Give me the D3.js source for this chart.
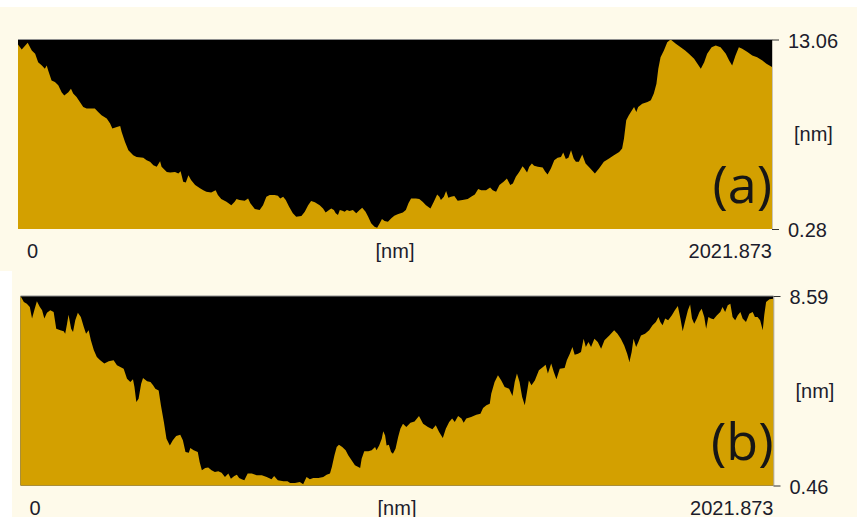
<!DOCTYPE html>
<html>
<head>
<meta charset="utf-8">
<script src="https://cdn.jsdelivr.net/npm/d3@7.9.0/dist/d3.min.js"></script>
<style>
  html, body { margin: 0; padding: 0; background: #ffffff; }
  svg { display: block; }
</style>
</head>
<body>
<svg id="chart" width="857" height="517"></svg>
<script>
// height profiles, [distance nm, height nm]
const profileA = [
  [0,12.72],[10,12.39],[26,12.84],[37,12.32],[46,12.10],[54,11.53],[64,11.31],[72,11.09],[77,11.31],[81,10.97],
  [90,10.30],[99,10.19],[108,9.97],[117,9.51],[124,9.29],[135,9.51],[142,9.74],[148,9.41],[157,9.18],[166,8.84],
  [175,8.51],[184,8.40],[206,8.40],[215,8.17],[224,7.95],[238,7.73],[247,7.39],[253,7.05],[265,7.16],[274,7.23],
  [278,6.82],[287,6.15],[296,5.59],[309,5.26],[318,5.14],[336,5.08],[345,4.92],[354,4.81],[363,4.58],[372,4.47],
  [381,4.85],[385,4.47],[399,4.13],[408,4.09],[421,4.13],[430,4.03],[436,4.18],[443,3.46],[450,3.42],[457,3.91],
  [464,3.58],[475,3.24],[488,3.02],[497,2.90],[505,2.79],[518,2.75],[530,2.90],[536,2.57],[545,2.30],[559,2.12],
  [572,1.89],[581,2.12],[586,2.30],[594,2.23],[608,2.18],[617,2.34],[623,2.01],[635,1.63],[648,1.56],[657,1.89],
  [666,2.45],[675,2.57],[688,2.57],[697,2.52],[703,2.34],[711,2.45],[718,2.23],[727,1.78],[737,1.34],[746,1.11],
  [760,1.15],[769,1.44],[778,1.89],[786,2.16],[796,2.08],[809,1.89],[818,1.67],[825,1.40],[834,1.56],[840,1.67],
  [847,1.56],[852,1.34],[858,1.22],[863,1.56],[870,1.51],[876,1.44],[882,1.56],[889,1.49],[898,1.56],[907,1.34],
  [916,1.56],[923,1.71],[932,1.44],[939,1.11],[947,0.66],[956,0.43],[963,0.37],[970,0.66],[976,0.95],[983,0.82],
  [992,0.77],[1001,1.00],[1009,1.17],[1018,1.27],[1032,1.40],[1040,1.56],[1047,2.01],[1054,2.34],[1067,2.34],[1076,2.30],
  [1085,2.12],[1094,1.89],[1106,1.67],[1115,2.12],[1124,2.61],[1130,2.45],[1134,2.23],[1142,2.45],[1148,2.84],[1154,2.39],
  [1161,2.45],[1170,2.50],[1179,2.18],[1192,2.23],[1206,2.30],[1215,2.45],[1225,2.61],[1234,2.97],[1242,2.90],[1255,2.90],
  [1266,3.08],[1273,2.90],[1282,2.79],[1291,3.24],[1302,3.46],[1311,3.69],[1320,3.24],[1327,3.35],[1335,3.80],[1344,4.13],
  [1353,4.52],[1358,4.36],[1365,4.09],[1371,4.47],[1378,4.70],[1384,4.54],[1394,4.47],[1407,4.43],[1413,4.18],[1420,3.96],
  [1429,4.36],[1438,4.92],[1447,5.08],[1456,5.14],[1462,5.44],[1469,5.00],[1476,5.08],[1483,5.59],[1490,5.04],[1496,4.81],
  [1504,4.81],[1513,5.30],[1522,4.70],[1536,4.32],[1547,4.03],[1558,4.36],[1571,4.81],[1585,5.04],[1598,5.26],[1612,5.48],
  [1620,5.71],[1625,6.38],[1631,7.61],[1638,7.95],[1646,8.28],[1652,8.51],[1658,8.17],[1663,8.51],[1674,8.73],[1688,8.84],
  [1697,8.96],[1705,9.41],[1712,10.08],[1717,11.09],[1723,11.87],[1732,12.32],[1741,12.88],[1750,13.06],[1764,12.77],[1777,12.54],
  [1789,12.32],[1799,12.10],[1813,11.76],[1822,11.42],[1831,11.09],[1840,11.53],[1848,12.10],[1860,12.54],[1871,12.66],[1884,12.54],
  [1898,12.10],[1907,11.65],[1915,11.31],[1924,11.98],[1933,12.54],[1942,12.43],[1956,12.21],[1969,11.98],[1982,11.87],[1996,11.65],
  [2007,11.42],[2021.873,11.20]
];

const profileB = [
  [0,8.59],[9,8.33],[17,8.26],[25,8.12],[31,7.62],[37,7.98],[44,8.36],[52,8.12],[58,7.98],[64,7.62],
  [71,7.87],[80,7.98],[89,7.90],[96,7.19],[107,7.12],[116,7.08],[120,6.97],[125,7.40],[129,7.79],[136,7.19],
  [141,7.05],[147,7.55],[154,7.87],[162,7.69],[170,7.26],[176,6.97],[183,7.12],[189,6.69],[197,6.26],[205,5.97],
  [214,5.83],[225,5.69],[237,5.79],[250,5.83],[259,5.62],[268,5.54],[277,5.47],[286,5.04],[295,4.90],[302,5.02],
  [306,4.69],[311,4.04],[317,4.18],[324,4.83],[329,5.07],[340,4.93],[349,4.90],[356,4.76],[362,4.61],[371,4.54],
  [377,3.90],[385,3.18],[392,2.47],[401,2.18],[409,2.40],[418,2.58],[429,2.64],[436,2.40],[443,1.90],[452,1.87],
  [456,2.07],[465,1.97],[476,1.90],[481,1.47],[487,1.11],[496,1.21],[504,1.23],[513,1.11],[522,1.04],[531,1.07],
  [540,1.01],[549,0.82],[558,0.97],[565,0.75],[574,0.87],[581,0.92],[587,0.78],[594,0.73],[601,0.68],[610,0.97],
  [621,0.97],[634,0.90],[648,0.90],[661,0.82],[674,0.73],[681,0.87],[691,0.68],[706,0.64],[717,0.64],[724,0.57],
  [737,0.57],[750,0.61],[759,0.51],[768,0.82],[777,0.73],[786,0.78],[800,0.78],[813,0.82],[822,0.92],[831,0.97],
  [836,1.25],[843,1.76],[849,2.11],[855,2.21],[864,2.11],[873,1.97],[880,1.76],[889,1.54],[898,1.33],[907,1.25],
  [912,1.21],[916,1.61],[923,1.93],[934,1.93],[943,1.97],[952,2.11],[956,1.97],[963,2.18],[970,2.47],[974,2.79],
  [979,2.61],[983,2.18],[989,2.21],[995,1.90],[1000,1.82],[1007,2.04],[1014,2.54],[1020,2.90],[1027,3.11],[1036,2.97],
  [1047,3.15],[1058,3.21],[1070,3.44],[1081,3.11],[1094,2.97],[1106,2.87],[1115,3.04],[1124,2.76],[1134,2.50],[1142,2.90],
  [1151,3.18],[1159,3.33],[1166,3.18],[1175,3.44],[1184,3.33],[1190,3.15],[1197,3.33],[1210,3.40],[1224,3.50],[1235,3.54],
  [1242,3.78],[1251,3.90],[1260,3.97],[1264,4.40],[1273,4.90],[1282,5.19],[1291,4.97],[1300,4.69],[1312,4.61],[1321,4.30],
  [1327,4.90],[1333,5.26],[1340,4.90],[1347,4.26],[1354,3.90],[1360,4.47],[1365,4.97],[1372,4.76],[1381,4.97],[1392,5.40],
  [1403,5.54],[1410,5.64],[1416,5.26],[1425,5.69],[1432,5.33],[1439,5.02],[1448,5.47],[1461,5.50],[1467,5.83],[1475,6.11],
  [1482,6.40],[1488,6.07],[1497,6.11],[1505,6.19],[1512,6.76],[1518,6.40],[1525,6.62],[1532,6.40],[1541,6.76],[1550,6.62],
  [1559,6.33],[1568,6.69],[1581,6.90],[1594,7.12],[1603,6.97],[1612,6.76],[1621,6.47],[1629,6.11],[1635,5.76],[1641,6.19],
  [1646,6.76],[1653,6.40],[1659,6.62],[1666,6.90],[1677,6.97],[1688,7.12],[1697,7.33],[1706,7.47],[1713,7.69],[1718,7.47],
  [1724,7.33],[1731,7.62],[1739,7.55],[1749,7.76],[1757,7.98],[1765,8.16],[1772,7.62],[1778,7.08],[1784,7.47],[1792,7.98],
  [1798,8.22],[1803,7.62],[1809,7.40],[1816,7.62],[1823,7.90],[1829,8.04],[1836,7.69],[1841,7.19],[1847,7.69],[1854,7.62],
  [1861,7.59],[1870,7.76],[1879,7.90],[1885,8.12],[1892,7.90],[1899,8.19],[1906,8.26],[1912,7.69],[1919,7.55],[1926,7.76],
  [1933,7.90],[1939,7.62],[1948,7.47],[1957,7.83],[1966,7.90],[1972,7.69],[1979,7.69],[1986,7.55],[1993,7.12],[1997,7.76],
  [2002,8.33],[2011,8.45],[2021.873,8.47]
];

const scanLength = 2021.873;
const heightRangeA = [0.28, 13.06];
const heightRangeB = [0.46, 8.59];
const xTickLabels = ['0', '[nm]', '2021.873'];
const unitLabel = '[nm]';
const panelLabels = ['(a)', '(b)'];

// layout of the two scan panels (pixels)
const panels = [
  { data: profileA, range: heightRangeA, label: panelLabels[0],
    bg: [0, 7, 857, 264], left: 18, right: 772, top: 39.5, bottom: 229 },
  { data: profileB, range: heightRangeB, label: panelLabels[1],
    bg: [12, 271, 845, 246], left: 20.5, right: 773.5, top: 296, bottom: 485.5 }
];

const svg = d3.select('#chart');
const textColor = '#1c1c2c';
const tickFont = '"Liberation Sans", Arial, sans-serif';

panels.forEach((p) => {
  const g = svg.append('g');

  // panel background
  g.append('rect')
    .attr('x', p.bg[0]).attr('y', p.bg[1])
    .attr('width', p.bg[2]).attr('height', p.bg[3])
    .attr('fill', '#fefaea');

  let x = d3.scaleLinear().domain([0, scanLength]).range([p.left, p.right]);
  let y = d3.scaleLinear().domain(p.range).range([p.bottom, p.top]);

  // black backdrop
  g.append('rect')
    .attr('x', p.left).attr('y', p.top)
    .attr('width', p.right - p.left).attr('height', p.bottom - p.top)
    .attr('fill', '#000');

  // gold profile
  let area = d3.area()
    .x((d) => x(d[0]))
    .y0(p.bottom)
    .y1((d) => y(d[1]));

  g.append('path')
    .datum(p.data)
    .attr('d', area)
    .attr('fill', '#d3a000');

  // thin frame line on top and right side
  g.append('line')
    .attr('x1', p.left).attr('x2', p.right)
    .attr('y1', p.top).attr('y2', p.top)
    .attr('stroke', '#8f8f8f').attr('stroke-width', 1);
  g.append('line')
    .attr('x1', p.right + 0.5).attr('x2', p.right + 0.5)
    .attr('y1', p.top).attr('y2', p.bottom)
    .attr('stroke', '#c8c4b8').attr('stroke-width', 1);

  // right axis: min / max only
  let yAxis = d3.axisRight(y)
    .tickValues(p.range)
    .tickFormat(d3.format('.2f'))
    .tickSize(7)
    .tickPadding(9);

  let ax = g.append('g')
    .attr('transform', `translate(${p.right},0)`)
    .call(yAxis);
  ax.select('.domain').remove();
  ax.selectAll('line').attr('stroke', '#333');
  ax.selectAll('text')
    .attr('fill', textColor)
    .attr('font-family', tickFont)
    .attr('font-size', 20)
    .attr('dy', '0.38em');

  // unit label on the right
  g.append('text')
    .attr('x', p.right + 22)
    .attr('y', (p.top + p.bottom) / 2)
    .attr('dy', '0.35em')
    .attr('fill', textColor)
    .attr('font-family', tickFont)
    .attr('font-size', 20)
    .text(unitLabel);

  // bottom labels: start, unit, end
  let base = p.bottom + 29;
  g.append('text')
    .attr('x', p.left + 9).attr('y', base)
    .attr('fill', textColor).attr('font-family', tickFont).attr('font-size', 20)
    .text(xTickLabels[0]);
  g.append('text')
    .attr('x', (p.left + p.right) / 2).attr('y', base)
    .attr('text-anchor', 'middle')
    .attr('fill', textColor).attr('font-family', tickFont).attr('font-size', 20)
    .text(xTickLabels[1]);
  g.append('text')
    .attr('x', p.right).attr('y', base)
    .attr('text-anchor', 'end')
    .attr('fill', textColor).attr('font-family', tickFont).attr('font-size', 20)
    .text(xTickLabels[2]);

  // panel letter
  g.append('text')
    .attr('x', p.right).attr('y', p.bottom - 26)
    .attr('text-anchor', 'end')
    .attr('fill', '#161616')
    .attr('font-family', '"Open Sans", sans-serif')
    .attr('font-size', 52)
    .text(p.label);
});
</script>
</body>
</html>
